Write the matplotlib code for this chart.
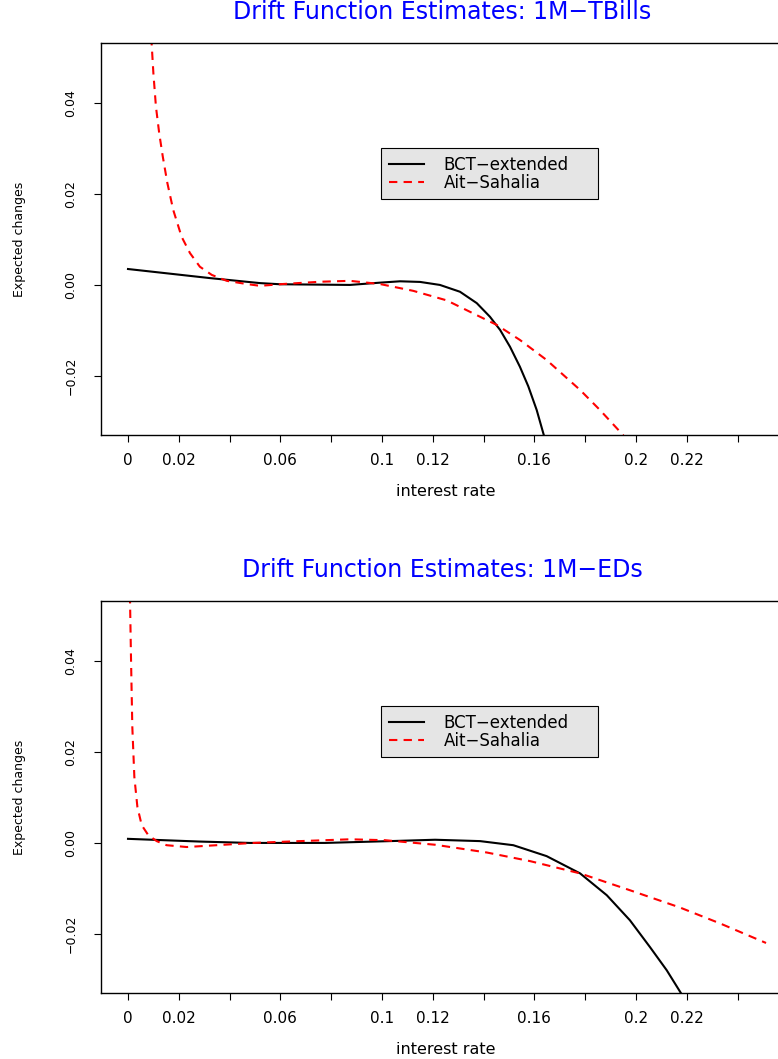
import matplotlib.pyplot as plt

# ---- data ----
tb_bct_x = [0.0, 0.0323, 0.052, 0.0598, 0.0874, 0.0992, 0.1071, 0.1150, 0.1228, 0.1307,
            0.1373, 0.1425, 0.1465, 0.1504, 0.1543, 0.1576, 0.1609, 0.1639, 0.1645]
tb_bct_y = [0.0035, 0.0015, 0.0004, 0.00015, 0.0, 0.0005, 0.0008, 0.00066, 0.0, -0.0015,
            -0.0040, -0.0070, -0.0099, -0.0136, -0.0180, -0.0223, -0.0275, -0.0334, -0.0345]

tb_ait_x = [0.0092, 0.0093, 0.0100, 0.0110, 0.0123, 0.0137, 0.0155, 0.0178, 0.0211, 0.0244,
            0.0283, 0.0330, 0.0389, 0.0467, 0.052, 0.061, 0.0756, 0.0874, 0.0992, 0.1123,
            0.1255, 0.1386, 0.1452, 0.1543, 0.1648, 0.1780, 0.1858, 0.1949, 0.1955]
tb_ait_y = [0.0545, 0.0531, 0.0465, 0.0392, 0.0333, 0.0282, 0.0224, 0.0165, 0.0106, 0.0070,
            0.0040, 0.0022, 0.0009, 0.0002, -0.0002, 0.0002, 0.0007, 0.0009, 0.0002, -0.0013,
            -0.0034, -0.0070, -0.0088, -0.0121, -0.0165, -0.0231, -0.0275, -0.0330, -0.0340]

ed_bct_x = [0.0, 0.0283, 0.048, 0.0776, 0.1031, 0.1209, 0.1386, 0.1517, 0.1648, 0.1780,
            0.1885, 0.1976, 0.2055, 0.2121, 0.2180, 0.2185]
ed_bct_y = [0.0009, 0.0003, 0.0, 0.0, 0.0004, 0.0007, 0.0004, -0.0005, -0.0029, -0.0067,
            -0.0115, -0.0170, -0.0229, -0.0280, -0.0333, -0.0345]

ed_ait_x = [0.0007, 0.0008, 0.0012, 0.0017, 0.0025, 0.0037, 0.0054, 0.0080, 0.0113, 0.0152,
            0.0231, 0.0349, 0.0492, 0.0677, 0.0874, 0.1012, 0.1209, 0.1412, 0.1583, 0.1780,
            0.1976, 0.2173, 0.2331, 0.2512]
ed_ait_y = [0.0545, 0.0532, 0.0401, 0.0255, 0.0145, 0.0079, 0.0039, 0.0017, 0.0004, -0.0005,
            -0.0009, -0.0005, 0.0, 0.0004, 0.0008, 0.0006, -0.0004, -0.0021, -0.0040, -0.0067,
            -0.0104, -0.0142, -0.0177, -0.0220]

x_ticks = [0.0, 0.02, 0.04, 0.06, 0.08, 0.10, 0.12, 0.14, 0.16, 0.18, 0.20, 0.22, 0.24]
x_tick_labels = ["0", "0.02", "", "0.06", "", "0.1", "0.12", "", "0.16", "", "0.2", "0.22", ""]
y_ticks = [-0.02, 0.0, 0.02, 0.04]
y_tick_labels = ["\u22120.02", "0.00", "0.02", "0.04"]

panels = [
    ("Drift Function Estimates: 1M\u2212TBills", tb_bct_x, tb_bct_y, tb_ait_x, tb_ait_y),
    ("Drift Function Estimates: 1M\u2212EDs", ed_bct_x, ed_bct_y, ed_ait_x, ed_ait_y),
]

plt.rcParams["font.family"] = ["DejaVu Sans"]

W, H = 778, 1059
fig = plt.figure(figsize=(W / 100, H / 100), dpi=100)

# pixel geometry of the two plot boxes (left, top, right, bottom)
boxes = [(101, 43, 783, 435), (101, 601, 783, 993)]
px0, px_per_unit = 128, 2540   # x=0 at pixel 128

for (title, bx, by, ax_x, ax_y), (l, t, r, b) in zip(panels, boxes):
    ax = fig.add_axes([l / W, 1 - b / H, (r - l) / W, (b - t) / H])
    ax.plot(bx, by, color="black", lw=1.5, label="BCT\u2212extended")
    ax.plot(ax_x, ax_y, color="#ff0000", lw=1.5, dashes=(4, 3), label="Ait\u2212Sahalia")

    ax.set_xlim((l - px0) / px_per_unit, (r - px0) / px_per_unit)
    ax.set_ylim(-0.033, 0.0532)

    ax.set_xticks(x_ticks)
    ax.set_xticklabels(x_tick_labels, fontsize=11)
    ax.set_yticks(y_ticks)
    ax.set_yticklabels(y_tick_labels, fontsize=9, rotation=90, va="center")
    ax.tick_params(axis="x", direction="out", length=5, width=0.8, pad=8)
    ax.tick_params(axis="y", direction="out", length=5, width=0.8, pad=12)
    for s in ax.spines.values():
        s.set_linewidth(1.0)

    ax.set_title(title, color="#0000ff", fontsize=17, y=1 + 31 / (b - t), va="center", pad=0)
    ax.set_xlabel("interest rate", fontsize=11.5, va="center")
    ax.xaxis.set_label_coords(0.506, -57 / (b - t))
    ax.set_ylabel("Expected changes", fontsize=9, va="center")
    ax.yaxis.set_label_coords(-81 / (r - l), 0.5)

    leg_top = 1 - 105 / (b - t)
    leg = ax.legend(loc="upper left",
                    bbox_to_anchor=(280 / (r - l), leg_top - 0.1, 217 / (r - l), 0.1),
                    mode="expand", fontsize=12, frameon=True, fancybox=False, framealpha=1,
                    facecolor="#e5e5e5", edgecolor="black", handlelength=2.15,
                    handletextpad=1.15, borderpad=0.45, labelspacing=0.0,
                    borderaxespad=0)
    leg.get_frame().set_linewidth(0.8)

fig.savefig("out.png", dpi=100)
